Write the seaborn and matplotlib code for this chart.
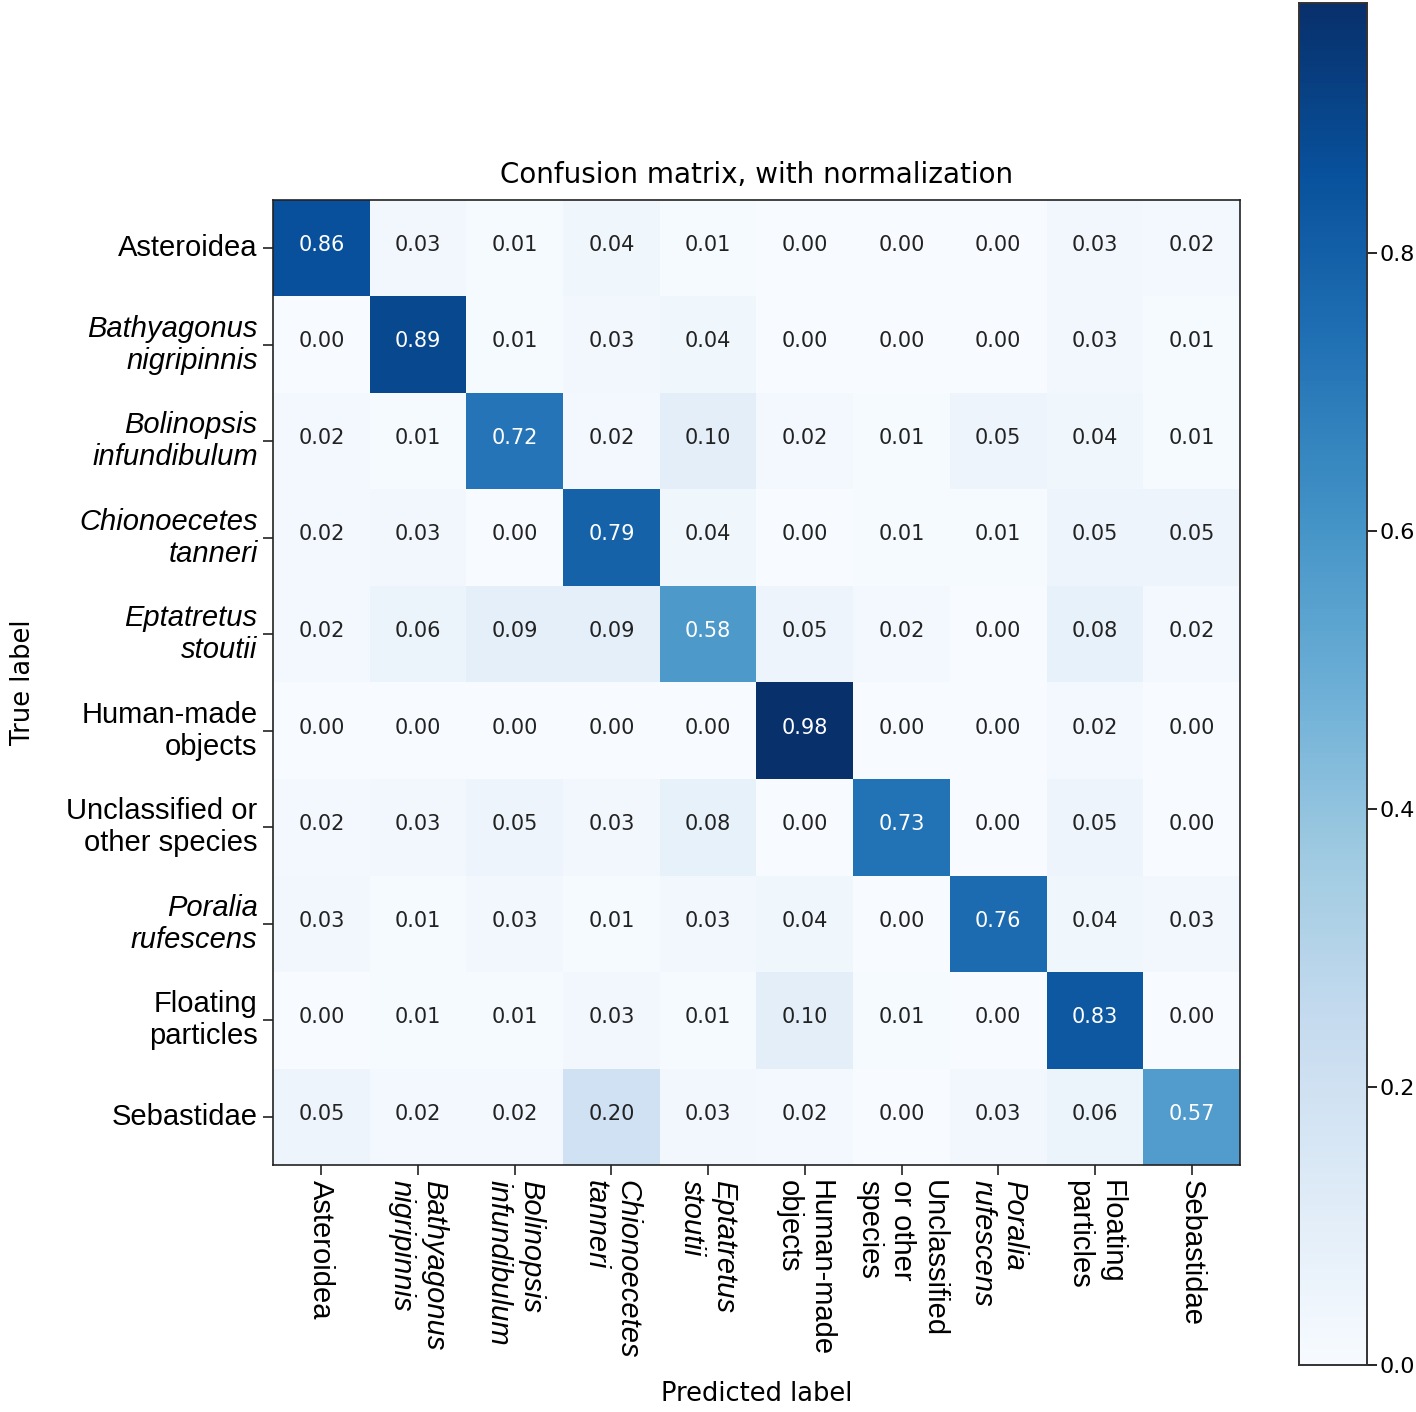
import numpy as np
import pandas as pd
import matplotlib
matplotlib.use("Agg")
import matplotlib.pyplot as plt
import seaborn as sns

# Data
classes = [
    "Asteroidea",
    "Bathyagonus\nnigripinnis",
    "Bolinopsis\ninfundibulum",
    "Chionoecetes\ntanneri",
    "Eptatretus\nstoutii",
    "Human-made\nobjects",
    "Unclassified or\nother species",
    "Poralia\nrufescens",
    "Floating\nparticles",
    "Sebastidae",
]
x_labels = [
    "Asteroidea",
    "Bathyagonus\nnigripinnis",
    "Bolinopsis\ninfundibulum",
    "Chionoecetes\ntanneri",
    "Eptatretus\nstoutii",
    "Human-made\nobjects",
    "Unclassified\nor other\nspecies",
    "Poralia\nrufescens",
    "Floating\nparticles",
    "Sebastidae",
]
italic = [False, True, True, True, True, False, False, True, False, False]

row_asteroidea = [0.86, 0.03, 0.01, 0.04, 0.01, 0.00, 0.00, 0.00, 0.03, 0.02]
row_bathyagonus = [0.00, 0.89, 0.01, 0.03, 0.04, 0.00, 0.00, 0.00, 0.03, 0.01]
row_bolinopsis = [0.02, 0.01, 0.72, 0.02, 0.10, 0.02, 0.01, 0.05, 0.04, 0.01]
row_chionoecetes = [0.02, 0.03, 0.00, 0.79, 0.04, 0.00, 0.01, 0.01, 0.05, 0.05]
row_eptatretus = [0.02, 0.06, 0.09, 0.09, 0.58, 0.05, 0.02, 0.00, 0.08, 0.02]
row_human = [0.00, 0.00, 0.00, 0.00, 0.00, 0.98, 0.00, 0.00, 0.02, 0.00]
row_unclassified = [0.02, 0.03, 0.05, 0.03, 0.08, 0.00, 0.73, 0.00, 0.05, 0.00]
row_poralia = [0.03, 0.01, 0.03, 0.01, 0.03, 0.04, 0.00, 0.76, 0.04, 0.03]
row_floating = [0.00, 0.01, 0.01, 0.03, 0.01, 0.10, 0.01, 0.00, 0.83, 0.00]
row_sebastidae = [0.05, 0.02, 0.02, 0.20, 0.03, 0.02, 0.00, 0.03, 0.06, 0.57]

cm = pd.DataFrame(
    [row_asteroidea, row_bathyagonus, row_bolinopsis, row_chionoecetes,
     row_eptatretus, row_human, row_unclassified, row_poralia,
     row_floating, row_sebastidae],
    index=classes, columns=x_labels,
)

label_font = "Liberation Sans"

fig = plt.figure(figsize=(14.16, 14.12), dpi=100)
ax = fig.add_axes([0.1928, 0.1749, 0.6829, 0.6835])
cax = fig.add_axes([0.9174, 0.0333, 0.048, 0.9646])

sns.heatmap(cm, ax=ax, cbar_ax=cax, cmap="Blues", vmin=0, vmax=cm.values.max(),
            annot=True, fmt=".2f",
            annot_kws={"fontsize": 15, "family": "DejaVu Sans"})

# text colour by threshold, like the sklearn-style plot
thresh = cm.values.max() / 2.0
for t in ax.texts:
    v = float(t.get_text())
    t.set_color("white" if v > thresh else "#222222")
    t.set_va("bottom")
    x, y = t.get_position()
    t.set_position((x, y + 0.07))

for s in ax.spines.values():
    s.set_visible(True)
    s.set_color("#222222")
    s.set_linewidth(1.2)

ax.set_title("Confusion matrix, with normalization", fontsize=20, pad=12)
ax.set_xticks(np.arange(len(x_labels)) + 0.5)
ax.set_yticks(np.arange(len(classes)) + 0.5)
ax.set_xticklabels(x_labels, rotation=-90, ha="center", va="top",
                   multialignment="left", fontsize=21, family=label_font)
ax.set_yticklabels(classes, rotation=0, ha="right", va="center",
                   multialignment="right", fontsize=21, family=label_font)
for lbl, it in zip(ax.get_xticklabels(), italic):
    lbl.set_style("italic" if it else "normal")
for lbl, it in zip(ax.get_yticklabels(), italic):
    lbl.set_style("italic" if it else "normal")
ax.tick_params(axis="both", length=7, width=1.2, color="#222222", pad=4)

ax.set_xlabel("Predicted label", fontsize=18.5, labelpad=16)
ax.set_ylabel("True label", fontsize=18.5, labelpad=22)

cax.set_yticks([0.0, 0.2, 0.4, 0.6, 0.8])
cax.set_yticklabels(["0.0", "0.2", "0.4", "0.6", "0.8"])
cax.tick_params(labelsize=16, length=7, width=1.2, pad=2)
for s in cax.spines.values():
    s.set_visible(True)
    s.set_linewidth(1.2)
    s.set_color("#333333")

fig.savefig("out.png", dpi=100)
